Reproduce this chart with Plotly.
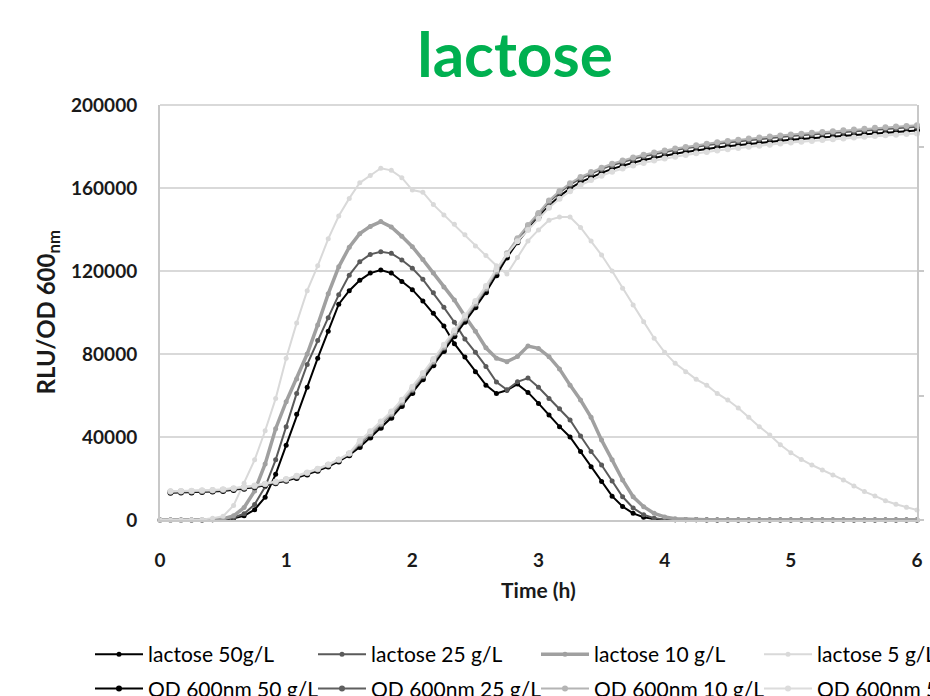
import plotly.graph_objects as go

# Sampling grid: one reading every 5 minutes over 6 hours
TIME_MIN = list(range(0, 361, 5))
time_h = [m / 60 for m in TIME_MIN]
time_od_h = time_h[1:]  # OD readings start at the first sample after t=0

# Luminescence normalised to cell density (RLU / OD600), primary axis
lac_50 = [0, 0, 0, 0, 0, 100, 300, 800, 2000, 5000, 11000, 22000, 36000, 51000, 64000,
          78000, 91000, 104000, 110500, 115500, 119000, 120500, 119000, 115000, 111000,
          105500, 99600, 93500, 85000, 78500, 71500, 65000, 61000, 62500, 65500, 61500,
          56200, 50600, 45000, 40000, 33000, 25700, 18500, 11500, 6500, 3200, 1300, 500,
          200, 100, 100, 100, 0, 0, 0, 0, 0, 0, 0, 0, 0, 0, 0, 0, 0, 0, 0, 0, 0, 0, 0, 0, 0]
lac_25 = [0, 0, 0, 0, 0, 100, 400, 1200, 3000, 7500, 16000, 29000, 45000, 61000, 75000,
          86500, 97500, 108500, 118000, 124500, 128000, 129300, 128500, 125300, 121300,
          116000, 109500, 102500, 95300, 87200, 80800, 74000, 66500, 62800, 66600, 68400,
          64000, 58600, 53600, 48200, 40500, 33000, 26500, 18800, 11200, 5800, 2500, 900,
          300, 100, 100, 100, 100, 0, 0, 0, 0, 0, 0, 0, 0, 0, 0, 0, 0, 0, 0, 0, 0, 0, 0, 0, 0]
lac_10 = [0, 0, 0, 0, 0, 200, 600, 2000, 6000, 14000, 27000, 44000, 57000, 68000, 80000,
          94000, 109000, 122000, 131500, 138000, 141500, 143800, 141200, 136700, 131700,
          125500, 119000, 112300, 106000, 98200, 91000, 83000, 78000, 76300, 78800, 83800,
          82700, 78700, 72800, 65000, 57800, 49500, 38500, 29000, 19300, 11200, 6400, 3200,
          1500, 600, 300, 200, 100, 100, 100, 100, 100, 100, 100, 100, 100, 100, 100, 100,
          100, 100, 100, 100, 100, 100, 100, 100, 100]
lac_5 = [0, 0, 0, 100, 300, 800, 1800, 7000, 17700, 29000, 43000, 58500, 78000, 95000,
         110500, 122500, 135500, 146500, 155000, 162500, 166000, 169500, 168500, 165000,
         159000, 158000, 152000, 147000, 142500, 137500, 132000, 127500, 122500, 118500,
         126500, 134500, 139800, 144500, 146000, 146000, 141000, 134500, 127700, 120000,
         111700, 103600, 95600, 87600, 80800, 75500, 71500, 67800, 65000, 61000, 57800,
         54000, 49500, 45000, 41000, 36300, 32400, 29200, 26500, 24100, 21700, 19300, 16400,
         13700, 11600, 9300, 7600, 6100, 4800]

# Optical density at 600 nm, secondary axis
od_50 = [0.131, 0.132, 0.133, 0.135, 0.137, 0.140, 0.145, 0.151, 0.158, 0.167, 0.177, 0.189,
         0.203, 0.219, 0.237, 0.258, 0.282, 0.312,
         0.352, 0.398, 0.445, 0.493, 0.550, 0.612, 0.678, 0.746, 0.815, 0.885, 0.955, 1.025,
         1.098, 1.180, 1.265, 1.338, 1.402, 1.460,
         1.515, 1.560, 1.598, 1.628, 1.652, 1.673, 1.692, 1.708, 1.722, 1.735, 1.746, 1.756,
         1.765, 1.773, 1.781, 1.788, 1.795, 1.801, 1.807, 1.813, 1.818, 1.823, 1.828, 1.833,
         1.837, 1.841, 1.845, 1.849, 1.853, 1.857, 1.861, 1.865, 1.868, 1.871, 1.874, 1.877]
od_25 = [0.135, 0.136, 0.137, 0.139, 0.141, 0.144, 0.149, 0.155, 0.162, 0.171, 0.181, 0.193,
         0.209, 0.225, 0.243, 0.264, 0.288, 0.318,
         0.367, 0.413, 0.460, 0.508, 0.565, 0.627, 0.693, 0.761, 0.830, 0.900, 0.970, 1.040,
         1.113, 1.195, 1.280, 1.353, 1.417, 1.475,
         1.533, 1.578, 1.616, 1.646, 1.670, 1.691, 1.710, 1.726, 1.740, 1.753, 1.764, 1.774,
         1.783, 1.791, 1.799, 1.806, 1.813, 1.819, 1.825, 1.831, 1.836, 1.841, 1.846, 1.851,
         1.855, 1.859, 1.863, 1.867, 1.871, 1.875, 1.879, 1.883, 1.886, 1.889, 1.892, 1.895]
od_10 = [0.137, 0.138, 0.139, 0.141, 0.143, 0.146, 0.151, 0.157, 0.164, 0.173, 0.183, 0.195,
         0.211, 0.227, 0.245, 0.266, 0.290, 0.320,
         0.372, 0.418, 0.465, 0.513, 0.570, 0.632, 0.698, 0.766, 0.835, 0.905, 0.975, 1.045,
         1.118, 1.200, 1.285, 1.358, 1.422, 1.480,
         1.540, 1.585, 1.623, 1.653, 1.677, 1.698, 1.717, 1.733, 1.747, 1.760, 1.771, 1.781,
         1.790, 1.798, 1.806, 1.813, 1.820, 1.826, 1.832, 1.838, 1.843, 1.848, 1.853, 1.858,
         1.862, 1.866, 1.870, 1.874, 1.878, 1.882, 1.886, 1.890, 1.893, 1.896, 1.899, 1.902]
od_5 = [0.139, 0.140, 0.141, 0.143, 0.145, 0.148, 0.153, 0.159, 0.166, 0.175, 0.185, 0.197,
        0.213, 0.229, 0.247, 0.268, 0.292, 0.322,
        0.382, 0.428, 0.475, 0.523, 0.580, 0.642, 0.708, 0.776, 0.845, 0.915, 0.985, 1.055,
        1.128, 1.210, 1.280, 1.343, 1.397, 1.452,
        1.505, 1.548, 1.584, 1.614, 1.638, 1.659, 1.678, 1.694, 1.708, 1.721, 1.732, 1.742,
        1.751, 1.759, 1.767, 1.774, 1.781, 1.787, 1.793, 1.799, 1.804, 1.809, 1.814, 1.819,
        1.823, 1.827, 1.831, 1.835, 1.839, 1.843, 1.847, 1.851, 1.854, 1.857, 1.860, 1.863]

LAC_NAMES = ["lactose 50g/L", "lactose 25 g/L", "lactose 10 g/L", "lactose 5 g/L"]
OD_NAMES = ["OD 600nm 50 g/L", "OD 600nm 25 g/L", "OD 600nm 10 g/L", "OD 600nm 5 g/L"]
Y_TITLE = "RLU/OD 600<sub>nm</sub>"
X_TITLE = "Time (h)"

FONT = "Lato"
lac_series = [lac_50, lac_25, lac_10, lac_5]
od_series = [od_50, od_25, od_10, od_5]
lac_colors = ["#000000", "#5a5a5a", "#a0a0a0", "#d9d9d9"]
lac_widths = [2, 2, 3.5, 2]
od_colors = ["#000000", "#5f5f5f", "#b4b4b4", "#dcdcdc"]
legend_ids = ["legend", "legend2", "legend3", "legend4"]

fig = go.Figure()

for i, (name, ys) in enumerate(zip(LAC_NAMES, lac_series)):
    fig.add_trace(go.Scatter(
        x=time_h, y=ys, name=name, mode="lines+markers",
        line=dict(color=lac_colors[i], width=lac_widths[i]),
        marker=dict(color=lac_colors[i], size=5),
        legend=legend_ids[i], legendgroup=f"a{i}", legendrank=1,
        cliponaxis=False,
    ))

for i, (name, ys) in enumerate(zip(OD_NAMES, od_series)):
    fig.add_trace(go.Scatter(
        x=time_od_h, y=ys, name=name, mode="lines+markers", yaxis="y2",
        line=dict(color=od_colors[i], width=2),
        marker=dict(color=od_colors[i], size=6),
        legend=legend_ids[i], legendgroup=f"b{i}", legendrank=2,
        cliponaxis=False,
    ))

legend_common = dict(
    xref="container", yref="container", xanchor="left", yanchor="top",
    orientation="v", bgcolor="rgba(0,0,0,0)", tracegroupgap=4, itemwidth=48,
    font=dict(family=FONT, size=21, color="#000000"),
)
legend_x = [90, 313, 536, 759]
legend_layout = {}
for lid, lx in zip(legend_ids, legend_x):
    legend_layout[lid] = dict(legend_common, x=lx / 930, y=1 - 634 / 696)

axis_font = dict(family=FONT, size=19, color="#1a1a1a", weight="bold")
title_font = dict(family=FONT, size=21, color="#1a1a1a", weight="bold")

fig.update_layout(
    width=930, height=696,
    margin=dict(l=160, r=13, t=105, b=176, autoexpand=False),
    paper_bgcolor="white", plot_bgcolor="white",
    title=dict(text="lactose", x=515 / 930, xanchor="center", xref="container",
               y=1 - 55 / 696, yanchor="middle", yref="container",
               font=dict(family=FONT, size=62, color="#00B050", weight="bold")),
    xaxis=dict(range=[0, 6], dtick=1, tick0=0, showgrid=False, zeroline=False,
               showline=True, linecolor="#c8c8c8", linewidth=2,
               ticks="outside", ticklen=22, tickcolor="rgba(0,0,0,0)",
               tickfont=axis_font,
               title=dict(text=X_TITLE, standoff=14, font=title_font)),
    yaxis=dict(range=[0, 200000], dtick=40000, tick0=0, tickformat="d",
               showgrid=True, gridcolor="#d9d9d9", gridwidth=2, zeroline=False,
               showline=True, linecolor="#c8c8c8", linewidth=2,
               ticks="outside", ticklen=17, tickcolor="rgba(0,0,0,0)",
               tickfont=axis_font),
    yaxis2=dict(range=[0, 2], dtick=0.6, tick0=0, overlaying="y", side="right",
                showgrid=False, zeroline=False, showline=True, linecolor="#c8c8c8",
                linewidth=2, ticks="outside", ticklen=5, tickcolor="#c8c8c8",
                tickwidth=2, showticklabels=False),
    showlegend=True,
    **legend_layout,
)

# vertical title of the luminescence axis
fig.add_annotation(text=Y_TITLE, textangle=-90, xref="paper", yref="paper",
                   x=(47 - 160) / 757, y=0.5, xanchor="center", yanchor="middle",
                   showarrow=False, font=dict(title_font, size=24))

# top border of the plot area
fig.add_shape(type="line", xref="paper", yref="paper", x0=0, x1=1, y0=1, y1=1,
              line=dict(color="#d9d9d9", width=2), layer="below")

fig.write_html("out.html")
